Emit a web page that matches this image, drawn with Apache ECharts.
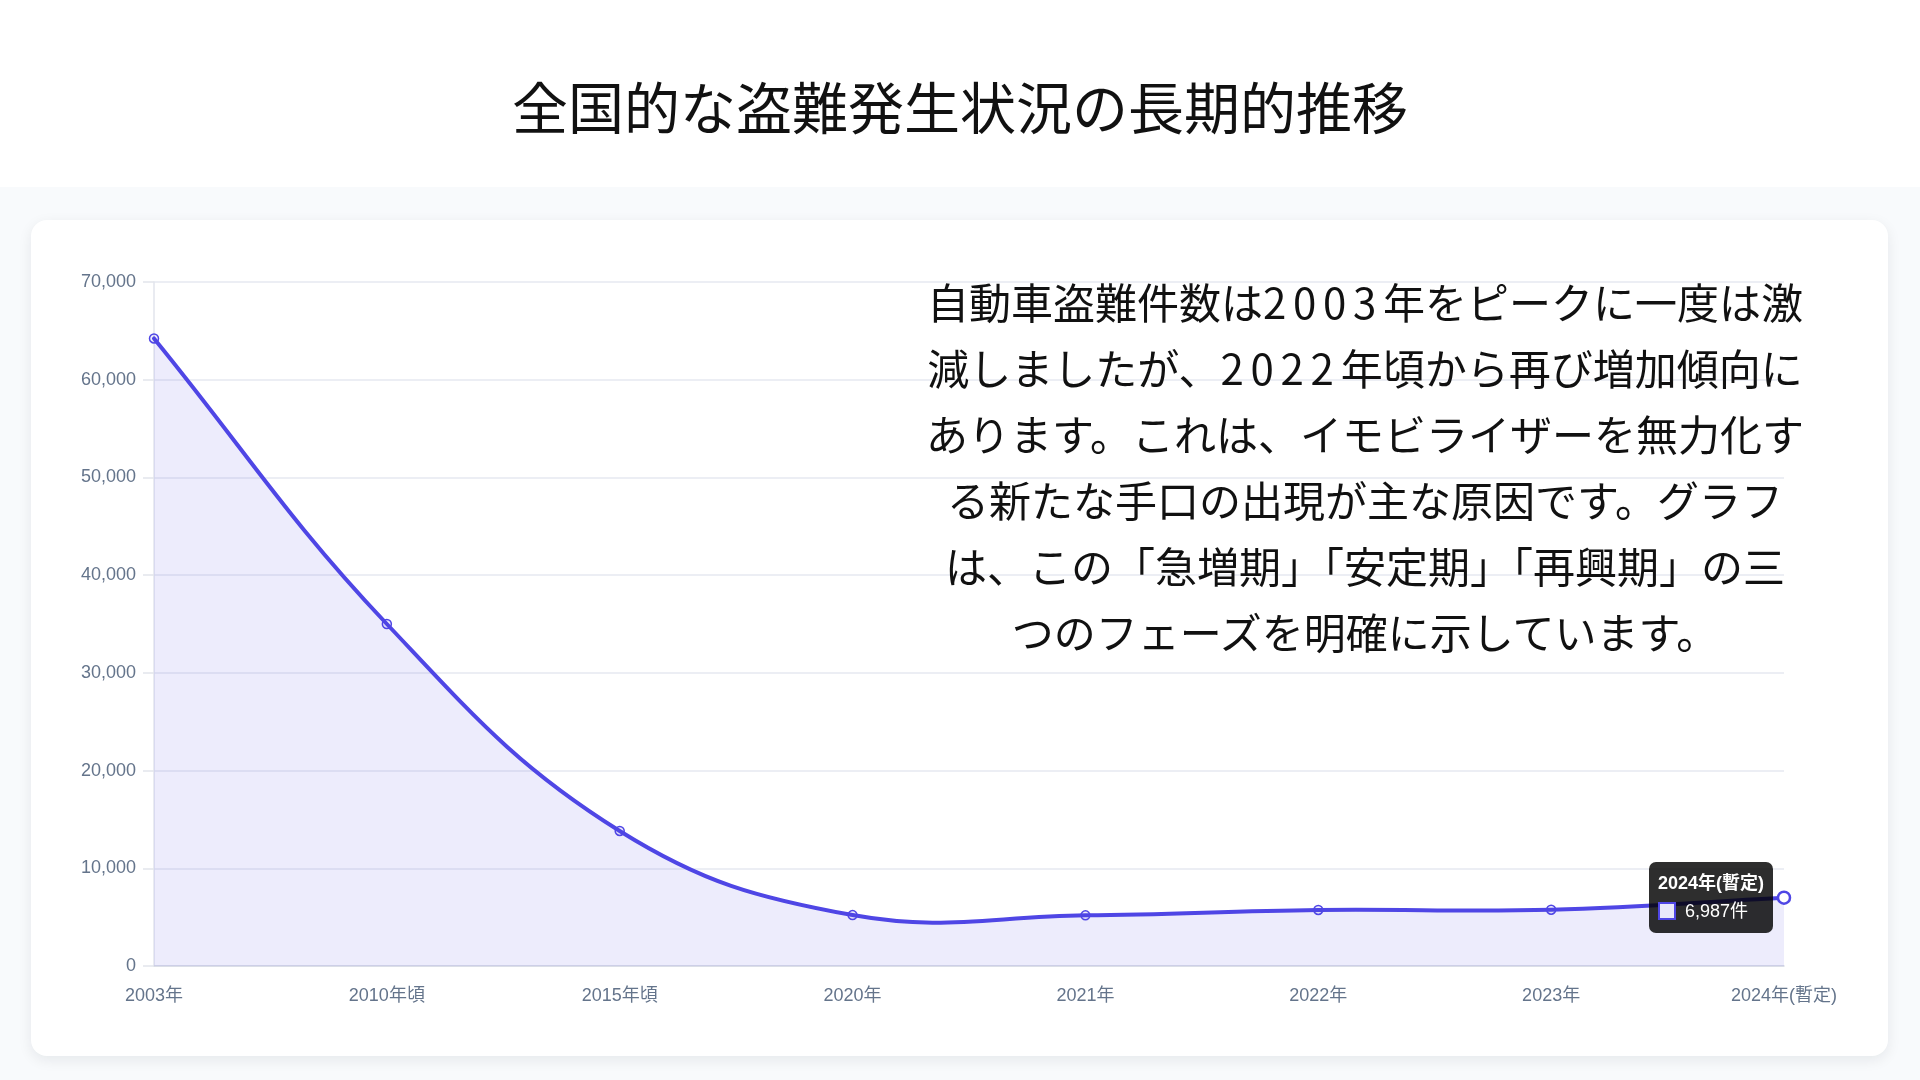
<!DOCTYPE html>
<html lang="ja">
<head>
<meta charset="utf-8">
<title>全国的な盗難発生状況の長期的推移</title>
<script src="https://cdn.jsdelivr.net/npm/echarts@6/dist/echarts.min.js"></script>
<style>
  html, body { margin: 0; padding: 0; width: 1920px; height: 1080px; overflow: hidden; background: #f8fafc; font-family: 'Noto Sans CJK JP', 'Noto Sans', sans-serif; }
  #header { position: absolute; left: 0; top: 0; width: 1920px; height: 187px; background: #ffffff; }
  #title { position: absolute; left: 0; top: 65px; width: 1920px; text-align: center; font-size: 56px; line-height: 80px; color: #111111; font-weight: 400; margin: 0; }
  #card { position: absolute; left: 31px; top: 220px; width: 1857px; height: 836px; background: #ffffff; border-radius: 16px; box-shadow: 0 4px 14px rgba(15, 23, 42, 0.08); }
  #chart { position: absolute; left: 0; top: 0; width: 1857px; height: 836px; }
  #note { position: absolute; left: 915px; top: 268px; width: 900px; text-align: center; font-size: 42px; line-height: 66px; color: #111111; white-space: nowrap; pointer-events: none; }
  #note .num { letter-spacing: 0.16em; }
</style>
</head>
<body>
<div id="header"><h1 id="title">全国的な盗難発生状況の長期的推移</h1></div>
<div id="card"><div id="chart"></div></div>
<div id="note"></div>
<script>
const categories = ['2003年', '2010年頃', '2015年頃', '2020年', '2021年', '2022年', '2023年', '2024年(暫定)'];
const theftCounts = [64223, 35000, 13821, 5210, 5182, 5734, 5762, 6987];
const yTickMin = 0;
const yTickMax = 70000;
const yTickStep = 10000;
const highlightIndex = 7;
const unitLabel = '件';
const noteLines = [
  '自動車盗難件数は2003年をピークに一度は激',
  '減しましたが、2022年頃から再び増加傾向に',
  'あります。これは、イモビライザーを無力化す',
  'る新たな手口の出現が主な原因です。グラフ',
  'は、この「急増期」「安定期」「再興期」の三',
  'つのフェーズを明確に示しています。'
];

document.getElementById('note').innerHTML = noteLines
  .map(l => l.replace(/(\d+)/g, '<span class="num">$1</span>'))
  .join('<br>');

const lineColor = '#4f46e5';
const fillColor = 'rgba(79, 70, 229, 0.1)';
const tension = 0.4;
const labelFont = "Arial, 'Liberation Sans', 'Noto Sans CJK JP', sans-serif";

// Spline control points (cardinal-style spline with tension, no clamping)
function splinePath(pts) {
  const n = pts.length;
  const cps = pts.map((cur, i) => {
    const prev = pts[Math.max(0, i - 1)];
    const next = pts[Math.min(n - 1, i + 1)];
    const d01 = Math.hypot(cur[0] - prev[0], cur[1] - prev[1]);
    const d12 = Math.hypot(next[0] - cur[0], next[1] - cur[1]);
    const sum = d01 + d12;
    const s01 = sum ? d01 / sum : 0;
    const s12 = sum ? d12 / sum : 0;
    const fa = tension * s01, fb = tension * s12;
    return {
      prev: [cur[0] - fa * (next[0] - prev[0]), cur[1] - fa * (next[1] - prev[1])],
      next: [cur[0] + fb * (next[0] - prev[0]), cur[1] + fb * (next[1] - prev[1])]
    };
  });
  let d = 'M' + pts[0][0] + ' ' + pts[0][1];
  for (let i = 1; i < n; i++) {
    const c1 = cps[i - 1].next, c2 = cps[i].prev;
    d += ' C' + c1[0] + ' ' + c1[1] + ' ' + c2[0] + ' ' + c2[1] + ' ' + pts[i][0] + ' ' + pts[i][1];
  }
  return d;
}

const chart = echarts.init(document.getElementById('chart'), null, { renderer: 'canvas' });

const seriesData = theftCounts.map((v, i) => i === highlightIndex
  ? { value: v, symbolSize: 12, itemStyle: { color: '#ffffff', borderColor: lineColor, borderWidth: 2.5 } }
  : v);

chart.setOption({
  animation: false,
  grid: { left: 123, right: 104, top: 62, bottom: 90, containLabel: false },
  tooltip: {
    trigger: 'item',
    triggerOn: 'none',
    alwaysShowContent: true,
    transitionDuration: 0,
    backgroundColor: 'rgba(0, 0, 0, 0.82)',
    borderWidth: 0,
    padding: [9, 9, 9, 9],
    extraCssText: 'border-radius:7px; box-shadow:none;',
    textStyle: { color: '#ffffff', fontFamily: labelFont, fontSize: 18 },
    position: function (point, params, dom, rect, size) {
      return [point[0] - size.contentSize[0] - 11, point[1] - size.contentSize[1] / 2];
    },
    formatter: function (p) {
      return '<div style="font-weight:bold;font-size:18px;line-height:24px;color:#fff;">' + p.name + '</div>' +
        '<div style="font-size:18px;line-height:26px;color:#fff;margin-top:3px;white-space:nowrap;">' +
        '<span style="display:inline-block;width:18px;height:18px;box-sizing:border-box;border:2px solid ' + lineColor + ';background:#e9e8fb;vertical-align:-3px;margin-right:9px;"></span>' +
        p.value.toLocaleString('en-US') + unitLabel + '</div>';
    }
  },
  xAxis: {
    type: 'category',
    data: categories,
    boundaryGap: false,
    axisLine: { show: true, lineStyle: { color: '#d5d9e2', width: 1.5 } },
    axisTick: { show: false },
    splitLine: { show: false },
    axisLabel: { color: '#64748b', fontSize: 18, fontFamily: labelFont, margin: 21 }
  },
  yAxis: {
    type: 'value',
    min: yTickMin,
    max: yTickMax,
    interval: yTickStep,
    axisLine: { show: true, lineStyle: { color: '#e2e5ec', width: 1.5 } },
    axisTick: { show: true, length: 11, lineStyle: { color: '#e2e5ec', width: 1.5 } },
    splitLine: { show: true, lineStyle: { color: '#e6e8f0', width: 1.5 } },
    axisLabel: {
      color: '#64748b', fontSize: 18, fontFamily: labelFont, margin: 18,
      formatter: function (v) { return v.toLocaleString('en-US'); }
    }
  },
  series: [
    {
      type: 'custom',
      silent: true,
      tooltip: { show: false },
      z: 2,
      data: theftCounts.map((v, i) => [i, v]),
      encode: { x: 0, y: 1 },
      renderItem: function (params, api) {
        if (params.dataIndex !== 0) return null;
        const pts = theftCounts.map((v, i) => api.coord([i, v]));
        const base = api.coord([0, yTickMin])[1];
        const curve = splinePath(pts);
        const area = curve + ' L' + pts[pts.length - 1][0] + ' ' + base + ' L' + pts[0][0] + ' ' + base + ' Z';
        return {
          type: 'group',
          children: [
            { type: 'path', shape: { pathData: area }, style: { fill: fillColor, stroke: null } },
            { type: 'path', shape: { pathData: curve }, style: { fill: null, stroke: lineColor, lineWidth: 4, lineJoin: 'round', lineCap: 'round' } }
          ]
        };
      }
    },
    {
      type: 'line',
      z: 3,
      data: seriesData,
      symbol: 'circle',
      symbolSize: 9,
      showSymbol: true,
      lineStyle: { width: 0, opacity: 0 },
      itemStyle: { color: fillColor, borderColor: lineColor, borderWidth: 1.5 },
      emphasis: { disabled: true }
    }
  ]
});

chart.dispatchAction({ type: 'showTip', seriesIndex: 1, dataIndex: highlightIndex });
</script>
</body>
</html>
